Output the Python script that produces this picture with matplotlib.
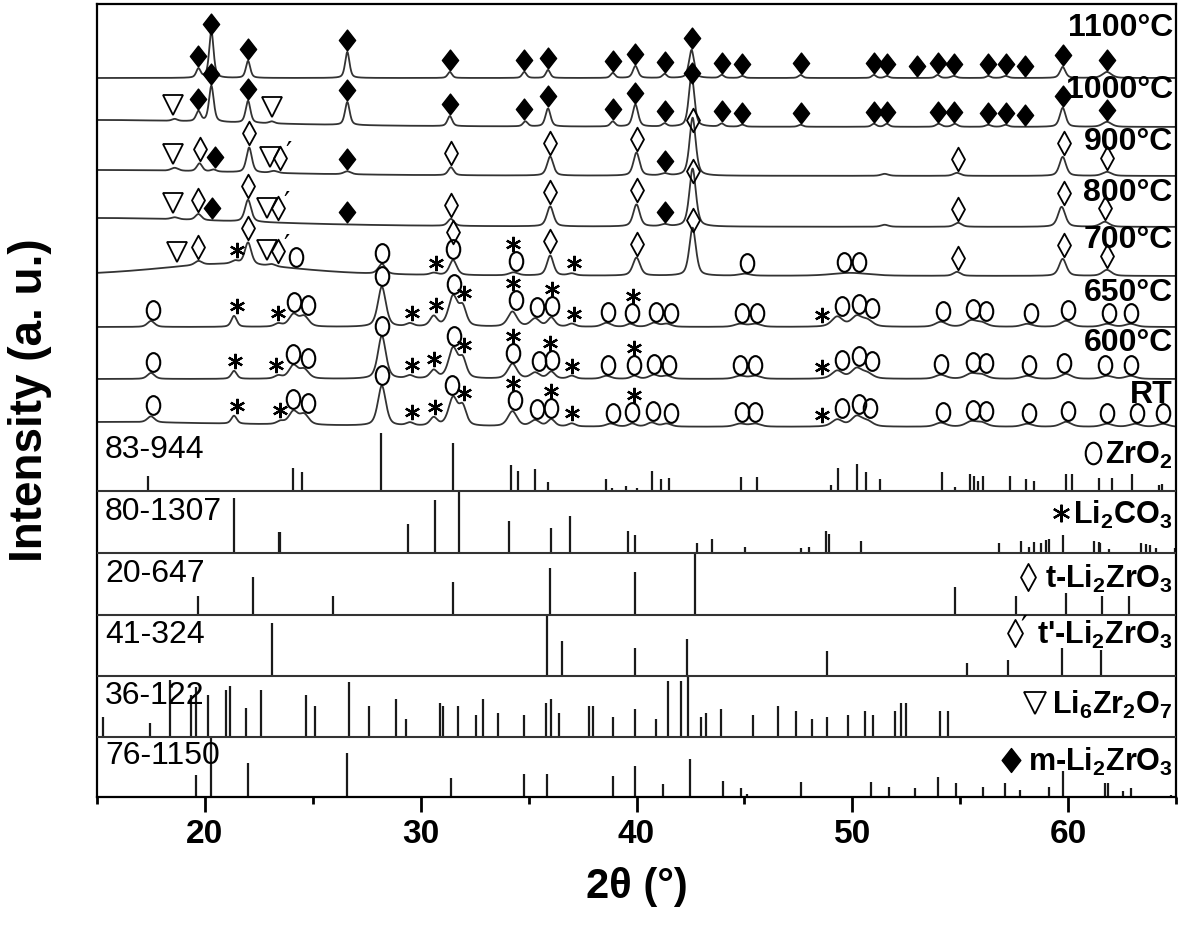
import numpy as np
import matplotlib.pyplot as plt
from matplotlib.path import Path
from matplotlib.ticker import MultipleLocator

plt.rcParams['font.family'] = ['Liberation Sans', 'DejaVu Sans']
plt.rcParams['mathtext.fontset'] = 'custom'
plt.rcParams['mathtext.rm'] = 'Liberation Sans:bold'
plt.rcParams['mathtext.it'] = 'Liberation Sans:bold'
plt.rcParams['mathtext.bf'] = 'Liberation Sans:bold'

# ---- measured patterns: (2theta, height, half width) ----
p1100 = [(19.7, 9, .12), (20.3, 47, .12), (22.0, 17, .12), (26.6, 26, .12), (31.35, 6, .12),
         (34.8, 6, .12), (35.9, 8, .12), (38.9, 5, .12), (39.95, 12, .14), (41.3, 4, .12),
         (42.55, 28, .14), (43.95, 3, .12), (44.9, 2, .12), (47.6, 3, .12), (51.0, 3, .12),
         (51.6, 2, .12), (53.95, 3, .12), (54.7, 2, .15), (56.3, 2, .12), (57.1, 2, .15),
         (59.75, 11, .15), (61.8, 6, .25)]
p1000 = [(15, 7, 8), (18.6, 2, .15), (19.7, 10, .13), (20.3, 36, .13), (22.0, 22, .13),
         (23.1, 2, .15), (26.6, 23, .13), (31.35, 10, .13), (34.85, 5, .13), (35.9, 18, .14),
         (38.9, 5, .13), (39.95, 22, .15), (41.3, 3, .13), (42.55, 52, .15), (43.95, 3, .13),
         (44.9, 2, .13), (47.6, 2, .13), (51.0, 3, .13), (51.6, 3, .13), (54.0, 3, .15),
         (54.75, 3, .15), (56.3, 2, .15), (57.1, 2, .15), (59.75, 19, .16), (61.8, 5, .25)]
p900 = [(15, 6, 8), (18.6, 3, .2), (19.75, 8, .15), (20.4, 2, .15), (22.05, 25, .15),
        (23.2, 2, .2), (26.6, 3, .2), (31.4, 8, .15), (36.0, 19, .17), (40.0, 23, .17),
        (41.3, 2, .2), (42.6, 58, .17), (51.5, 2, .2), (54.85, 3, .2), (59.75, 19, .18),
        (61.8, 4, .25)]
p800 = [(15, 9, 8), (18.6, 2, .2), (19.7, 6, .17), (22.0, 22, .17), (31.4, 7, .17),
        (36.0, 20, .18), (40.0, 22, .18), (41.3, 2, .2), (42.6, 58, .18), (51.5, 2, .2),
        (54.9, 4, .2), (59.7, 20, .2), (61.7, 5, .25)]
p700 = [(21, 12, 4), (19.7, 4, .2), (21.4, 3, .2), (22.0, 22, .18), (23.1, 2, .2),
        (28.2, 10, .2), (30.6, 2, .2), (31.5, 15, .2), (34.3, 3, .25), (36.0, 20, .18),
        (37.0, 2, .2), (40.0, 18, .2), (42.6, 48, .18), (45.0, 2, .3), (49.9, 3, 1.0),
        (54.85, 4, .2), (59.75, 17, .2), (61.8, 6, .25)]
p650 = [(17.5, 6, .2), (21.35, 11, .15), (23.4, 3, .2), (24.1, 12, .25), (24.6, 10, .25),
        (28.2, 40, .22), (29.5, 3, .2), (30.6, 10, .2), (31.5, 30, .25), (31.95, 18, .2),
        (34.25, 15, .25), (35.3, 8, .25), (36.05, 9, .2), (37.0, 3, .2), (38.6, 4, .25),
        (39.7, 3, .2), (40.8, 4, .25), (41.4, 3, .25), (44.8, 3, .3), (45.5, 3, .3),
        (49.3, 10, .3), (50.2, 10, .3), (50.7, 6, .3), (54.1, 5, .3), (55.5, 6, .3),
        (56.0, 4, .3), (58.1, 3, .3), (59.9, 6, .3), (61.8, 3, .3), (62.9, 3, .3)]
p600 = [(17.5, 6, .2), (21.35, 8, .15), (23.4, 3, .2), (24.1, 13, .25), (24.6, 9, .25),
        (28.2, 43, .22), (29.5, 3, .2), (30.6, 8, .2), (31.5, 30, .25), (31.95, 18, .2),
        (34.25, 15, .25), (35.3, 6, .25), (36.05, 7, .2), (37.0, 3, .2), (38.6, 3, .25),
        (39.9, 3, .2), (40.8, 4, .25), (41.4, 3, .25), (44.8, 3, .3), (45.5, 3, .3),
        (49.3, 8, .3), (50.2, 10, .3), (50.7, 5, .3), (54.1, 4, .3), (55.5, 5, .3),
        (56.0, 4, .3), (58.1, 3, .3), (59.9, 5, .3), (61.8, 3, .3), (62.9, 3, .3)]
pRT = [(15, 5, 8), (17.5, 6, .2), (21.35, 8, .15), (23.5, 3, .2), (24.1, 13, .25),
       (24.6, 10, .25), (28.2, 40, .22), (29.5, 3, .2), (30.6, 8, .2), (31.5, 28, .25),
       (31.95, 18, .2), (34.25, 15, .25), (35.3, 6, .25), (36.05, 7, .2), (37.0, 3, .2),
       (38.8, 3, .25), (39.8, 3, .2), (40.7, 4, .25), (41.4, 3, .25), (44.8, 3, .3),
       (45.5, 3, .3), (49.3, 7, .3), (50.2, 10, .3), (50.7, 5, .3), (54.1, 4, .3),
       (55.5, 5, .3), (56.0, 4, .3), (58.1, 3, .3), (59.9, 5, .3), (61.8, 3, .3),
       (63.1, 3, .3), (64.4, 3, .3)]

# phase marks: m=m-Li2ZrO3, t=t-Li2ZrO3, p=t'-Li2ZrO3, z=ZrO2, c=Li2CO3, l=Li6Zr2O7
m_all = [19.7, 20.3, 22.0, 26.6, 31.35, 34.8, 35.9, 38.9, 39.95, 41.3, 42.55, 43.95, 44.9,
         47.6, 51.0, 51.6, 53.0, 53.95, 54.7, 56.3, 57.1, 58.0, 59.75, 61.8]
k1100 = [('m', a) for a in m_all]
k1000 = [('l', 18.5), ('l', 23.1)] + [('m', a) for a in m_all if a != 53.0]
k900 = [('l', 18.5), ('l', 23.0), ('t', 19.75), ('m', 20.45), ('t', 22.05), ('p', 23.5),
        ('m', 26.6), ('t', 31.4), ('t', 36.0), ('t', 40.0), ('m', 41.3), ('t', 42.6),
        ('t', 54.9), ('t', 59.8), ('t', 61.8)]
k800 = [('l', 18.5), ('l', 22.9), ('t', 19.7), ('m', 20.35), ('t', 22.0), ('p', 23.4),
        ('m', 26.6), ('t', 31.4), ('t', 36.0), ('t', 40.0), ('m', 41.3), ('t', 42.6),
        ('t', 54.9), ('t', 59.8), ('t', 61.7)]
k700 = [('l', 18.7), ('l', 22.9), ('t', 19.7), ('c', 21.5), ('t', 22.0), ('p', 23.4),
        ('z', 24.2), ('z', 28.2), ('c', 30.7), ('z', 31.5), ('t', 31.5), ('z', 34.4),
        ('c', 34.3), ('t', 36.0), ('c', 37.1), ('t', 40.0), ('t', 42.6), ('z', 45.1),
        ('z', 49.6), ('z', 50.3), ('t', 54.9), ('t', 59.8), ('t', 61.8)]
z650 = [17.6, 24.15, 24.8, 28.2, 31.55, 34.4, 35.4, 36.1, 38.7, 39.8, 40.9, 41.6, 44.9, 45.6,
        49.5, 50.3, 50.9, 54.2, 55.6, 56.2, 58.3, 60.0, 61.9, 62.9]
c650 = [21.5, 23.4, 29.6, 30.7, 32.0, 34.3, 36.1, 37.1, 39.85, 48.6]
z600 = [17.6, 24.07, 24.8, 28.2, 31.55, 34.3, 35.5, 36.1, 38.7, 39.9, 40.8, 41.5, 44.8, 45.5,
        49.5, 50.3, 50.9, 54.1, 55.6, 56.2, 58.2, 59.8, 61.7, 62.9]
c600 = [21.4, 23.3, 29.6, 30.6, 32.0, 34.3, 36.0, 37.0, 39.9, 48.6]
zRT = [17.6, 24.1, 24.8, 28.2, 31.45, 34.35, 35.4, 36.05, 38.9, 39.8, 40.75, 41.6, 44.9, 45.5,
       49.5, 50.3, 50.8, 54.2, 55.6, 56.2, 58.2, 60.0, 61.8, 63.2, 64.4]
cRT = [21.5, 23.5, 29.6, 30.65, 32.0, 34.3, 36.05, 37.0, 39.9, 48.6]

temps = ['1100°C', '1000°C', '900°C', '800°C', '700°C', '650°C', '600°C', 'RT']
offsets = [719, 670, 621, 570, 521, 470, 418, 370]
peaks = [p1100, p1000, p900, p800, p700, p650, p600, pRT]
marks = [k1100, k1000, k900, k800, k700,
         [('z', a) for a in z650] + [('c', a) for a in c650],
         [('z', a) for a in z600] + [('c', a) for a in c600],
         [('z', a) for a in zRT] + [('c', a) for a in cRT]]
temp_y = [769, 707, 655, 604, 557, 504, 454, 402]

# ---- reference sticks: (2theta, intensity) ----
s_zro2 = [(17.36, 15), (24.07, 23), (24.49, 19), (28.15, 58), (31.48, 48), (34.2, 26),
          (34.5, 20), (35.3, 22), (35.88, 9), (38.6, 12), (38.85, 3), (39.5, 5), (40.0, 3),
          (40.7, 20), (41.15, 12), (41.5, 13), (43.9, 1), (44.86, 14), (45.6, 14), (49.0, 6),
          (49.35, 23), (50.23, 27), (50.65, 19), (51.3, 12), (54.17, 19), (54.77, 4),
          (55.46, 17), (55.65, 15), (55.83, 10), (56.06, 15), (57.3, 15), (58.05, 12),
          (58.4, 10), (59.9, 17), (60.2, 17), (61.43, 13), (62.04, 13), (62.96, 17),
          (64.2, 6), (64.35, 7)]
s_li2co3 = [(21.34, 55), (23.42, 21), (23.47, 21), (29.4, 29), (30.65, 53), (31.76, 61),
            (34.1, 32), (36.05, 25), (36.94, 37), (39.6, 22), (39.95, 18), (40.9, 1),
            (42.8, 10), (43.5, 14), (45.05, 6), (47.6, 5), (48.0, 6), (48.8, 22), (48.9, 19),
            (50.1, 1), (50.4, 12), (56.8, 10), (57.8, 12), (58.2, 6), (58.4, 11), (58.75, 10),
            (58.97, 13), (59.1, 14), (59.77, 18), (61.2, 12), (61.43, 11), (61.5, 10),
            (61.9, 4), (63.4, 10), (63.6, 9), (63.8, 8), (64.07, 5), (64.95, 5)]
s_t = [(19.68, 19), (22.23, 38), (25.93, 19), (31.48, 33), (35.97, 47), (39.95, 43),
       (42.7, 62), (54.77, 28), (57.6, 19), (59.9, 22), (61.57, 19), (62.8, 19)]
s_tp = [(23.1, 53), (35.83, 60), (36.53, 35), (39.95, 28), (42.36, 37), (48.84, 25),
        (55.3, 13), (57.2, 16), (59.7, 28), (61.53, 26)]
s_li6 = [(15.27, 20), (17.45, 14), (18.38, 57), (19.35, 42), (19.6, 50), (20.15, 42),
         (21.0, 47), (21.17, 51), (21.9, 29), (22.6, 47), (24.7, 42), (25.1, 31),
         (26.67, 55), (27.6, 31), (28.84, 38), (29.3, 18), (30.88, 34), (31.02, 31),
         (31.71, 31), (32.55, 22), (32.87, 38), (33.6, 24), (34.77, 22), (35.79, 34),
         (36.05, 38), (36.4, 24), (37.78, 31), (38.0, 31), (38.93, 20), (39.95, 28),
         (40.9, 18), (41.48, 56), (42.04, 56), (42.4, 60), (43.0, 20), (43.24, 24),
         (43.9, 28), (45.4, 22), (46.57, 31), (47.4, 26), (48.15, 18), (48.84, 20),
         (49.8, 22), (50.6, 26), (50.97, 22), (52.0, 26), (52.27, 34), (52.5, 34),
         (54.07, 26), (54.44, 26)]
s_m = [(19.6, 22), (20.27, 60), (22.0, 34), (26.57, 44), (31.39, 19), (34.77, 23),
       (35.83, 23), (38.93, 21), (39.95, 31), (41.25, 13), (42.5, 38), (44.03, 16),
       (44.86, 9), (45.1, 3), (47.6, 15), (50.88, 15), (51.7, 10), (52.9, 9), (53.98, 20),
       (54.8, 14), (56.06, 10), (57.08, 14), (57.78, 7), (59.12, 10), (59.77, 26),
       (61.7, 14), (61.86, 14), (62.55, 6), (62.9, 9), (64.77, 2)]

cards = ['83-944', '80-1307', '20-647', '41-324', '36-122', '76-1150']
phases = [r'ZrO$_2$', r'Li$_2$CO$_3$', r't-Li$_2$ZrO$_3$', r"t'-Li$_2$ZrO$_3$",
          r'Li$_6$Zr$_2$O$_7$', r'm-Li$_2$ZrO$_3$']
phase_sym = ['z', 'c', 't', 'p', 'l', 'm']
sticks = [s_zro2, s_li2co3, s_t, s_tp, s_li6, s_m]
bases = [306, 244, 182, 121, 60, 0]


def diamond(w):
    return Path([(0, 1), (w, 0), (0, -1), (-w, 0), (0, 1)], closed=True)


circ = Path.unit_circle()
oval = Path(circ.vertices * [0.72, 1.0], circ.codes)

sty = {
    'm': dict(marker=diamond(0.78), ms=15, mfc='k', mec='k', mew=1),
    't': dict(marker=diamond(0.55), ms=17, mfc='none', mec='k', mew=1.3),
    'p': dict(marker=diamond(0.55), ms=17, mfc='none', mec='k', mew=1.3),
    'z': dict(marker=oval, ms=13.5, mfc='none', mec='k', mew=1.5),
    'c': dict(marker=(6, 2, 0), ms=11, mfc='k', mec='k', mew=1.6),
    'l': dict(marker='v', ms=14, mfc='none', mec='k', mew=1.3),
}
sym_off = {'m': 12, 't': 14, 'p': 14, 'z': 11, 'c': 10, 'l': 14}


def profile(xx, pk):
    yy = np.zeros_like(xx)
    for p, h, w in pk:
        d = ((xx - p) / w) ** 2
        yy += h * (0.5 / (1 + d) + 0.5 * np.exp(-np.log(2) * d))
    return yy


fig = plt.figure(figsize=(11.81, 9.44), dpi=100)
ax = fig.add_axes([97 / 1181, 147 / 944, 1079 / 1181, 793 / 944])

x = np.linspace(15, 65, 5001)
for name, off, pk, mk, ty in zip(temps, offsets, peaks, marks, temp_y):
    curve = profile(x, pk)
    ax.plot(x, off + curve, color='#333333', lw=1.3, zorder=2)
    placed = []
    for s, a in mk:
        win = (x > a - 0.15) & (x < a + 0.15)
        yv = off + min(curve[win].max(), 42) + sym_off[s]
        for pa, py in placed:
            if abs(pa - a) < 0.3:
                yv = max(yv, py + 17)
        placed.append((a, yv))
        ax.plot([a], [yv], ls='none', zorder=4, **sty[s])
        if s == 'p':
            ax.text(a + 0.22, yv + 4, '′', fontsize=20, family=['DejaVu Sans'],
                    ha='left', va='center', zorder=4)
    ax.text(64.85, ty, name, ha='right', va='center', fontsize=23, fontweight='bold')

for card, ph, sym, st, b in zip(cards, phases, phase_sym, sticks, bases):
    xs = [s[0] for s in st]
    hs = [s[1] for s in st]
    ax.vlines(xs, b, [b + h for h in hs], color='#1a1a1a', lw=1.6, zorder=2)
    if b > 0:
        ax.axhline(b, color='#333333', lw=1.5, zorder=3)
    ax.text(15.37, b + 41, card, ha='left', va='center', fontsize=23)

ax.set_xlim(15, 65)
ax.set_ylim(0, 793)
ax.set_yticks([])
ax.set_xticks([20, 30, 40, 50, 60])
ax.xaxis.set_minor_locator(MultipleLocator(5))
ax.tick_params(axis='x', which='major', direction='out', length=11, width=2,
               labelsize=24, pad=5)
ax.tick_params(axis='x', which='minor', direction='out', length=5, width=2)
for lbl in ax.get_xticklabels():
    lbl.set_fontweight('bold')
for sp in ax.spines.values():
    sp.set_linewidth(1.6)

fig.text(30 / 1181, 1 - 400 / 944, 'Intensity (a. u.)', rotation=90, ha='center',
         va='center', fontsize=33, fontweight='bold')
fig.text(637 / 1181, 1 - 887 / 944, '2θ (°)', ha='center', va='center', fontsize=30,
         fontweight='bold', family=['Liberation Sans', 'DejaVu Sans'])

# phase labels with their symbols in front
lab_y = [344, 284, 220, 164, 94, 37]
fig.canvas.draw()
rend = fig.canvas.get_renderer()
inv = ax.transData.inverted()
for ph, sym, ly in zip(phases, phase_sym, lab_y):
    t = ax.text(64.85, ly - 11, ph, ha='right', va='baseline', fontsize=22,
                fontweight='bold')
    bb = t.get_window_extent(rend)
    gap = 12 if sym in ('z', 'c') else 17
    if sym == 'p':
        gap = 22
    sx, _ = inv.transform((bb.x0 - gap, bb.y0))
    st = dict(sty[sym])
    st['ms'] = st['ms'] * 1.15
    ax.plot([sx], [ly], ls='none', zorder=4, **st)
    if sym == 'p':
        ax.text(sx + 0.25, ly + 5, '′', fontsize=22, family=['DejaVu Sans'],
                ha='left', va='center')

fig.savefig('out.png', dpi=100)
